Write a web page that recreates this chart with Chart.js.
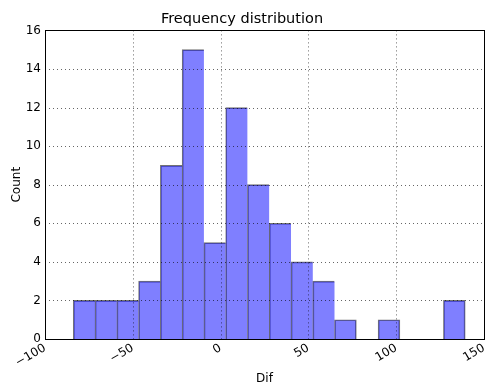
<!DOCTYPE html>
<html>
<head>
<meta charset="utf-8">
<script src="https://cdn.jsdelivr.net/npm/chart.js@4.4.1/dist/chart.umd.min.js"></script>
<style>
  html, body { margin: 0; padding: 0; background: #fff; }
  #wrap { width: 485px; height: 387px; }
</style>
</head>
<body>
<div id="wrap"><canvas id="histChart"></canvas></div>
<script>
// histogram bins (centres) and counts
var binCenters = [-77.7, -65.3, -52.9, -40.5, -28.1, -15.7, -3.3, 9.1, 21.5, 33.9,
                  46.3, 58.7, 71.1, 83.5, 95.9, 108.3, 120.7, 133.1];
var counts = [2, 2, 2, 3, 9, 15, 5, 12, 8, 6, 4, 3, 1, 0, 1, 0, 0, 2];
var xTicks = [-100, -50, 0, 50, 100, 150];
var yTicks = [0, 2, 4, 6, 8, 10, 12, 14, 16];

var FONT = "'DejaVu Sans', sans-serif";

// grid on top of the bars + full frame round the plot
var overlay = {
    id: 'overlay',
    afterDatasetsDraw: function(chart) {
        var ctx = chart.ctx, a = chart.chartArea;
        var xs = chart.scales.x, ys = chart.scales.y;
        ctx.save();
        ctx.strokeStyle = 'rgba(0,0,0,0.6)';
        ctx.lineWidth = 1;
        ctx.setLineDash([1, 3]);
        xTicks.forEach(function(v) {
            var px = Math.round(xs.getPixelForValue(v)) + 0.5;
            ctx.beginPath(); ctx.moveTo(px, a.top); ctx.lineTo(px, a.bottom); ctx.stroke();
        });
        yTicks.forEach(function(v) {
            var py = Math.round(ys.getPixelForValue(v)) + 0.5;
            ctx.beginPath(); ctx.moveTo(a.left, py); ctx.lineTo(a.right, py); ctx.stroke();
        });
        ctx.setLineDash([]);
        ctx.strokeStyle = '#000';
        ctx.strokeRect(Math.round(a.left) + 0.5, Math.round(a.top) + 0.5,
                       Math.round(a.right - a.left), Math.round(a.bottom - a.top));
        ctx.restore();
    }
};

// one shared edge between neighbouring bars, like matplotlib
function barBorder(c) {
    var i = c.dataIndex;
    var nextEmpty = i === counts.length - 1 || counts[i + 1] === 0;
    return { left: 1, top: 1, right: nextEmpty ? 1 : 0, bottom: 0 };
}

var ctx = document.getElementById('histChart').getContext('2d');
var histChart = new Chart(ctx, {
    type: 'bar',
    data: {
        datasets: [{
            data: binCenters.map(function(c, i) { return { x: c, y: counts[i] }; }),
            backgroundColor: 'rgba(0,0,255,0.5)',
            borderColor: 'rgba(0,0,0,0.55)',
            borderWidth: barBorder,
            borderSkipped: false,
            barPercentage: 1,
            categoryPercentage: 1
        }]
    },
    options: {
        responsive: true,
        maintainAspectRatio: false,
        animation: false,
        layout: { autoPadding: false, padding: { left: 0, right: 1, top: 0, bottom: 0 } },
        plugins: {
            legend: { display: false },
            tooltip: { enabled: false },
            title: {
                display: true,
                text: 'Frequency distribution',
                color: '#000',
                font: { family: FONT, size: 14.5, weight: 'normal' },
                padding: { top: 11, bottom: 2 }
            }
        },
        scales: {
            x: {
                type: 'linear',
                offset: false,
                min: -100,
                max: 150,
                afterBuildTicks: function(scale) {
                    scale.ticks = xTicks.map(function(v) { return { value: v }; });
                },
                afterFit: function(scale) {
                    scale.height = 48;
                    scale.paddingLeft = 0;
                    scale.paddingRight = 0;
                },
                grid: { display: false, drawTicks: false, offset: false },
                border: { display: false },
                ticks: {
                    minRotation: 30,
                    maxRotation: 30,
                    padding: 2,
                    color: '#000',
                    font: { family: FONT, size: 12 },
                    callback: function(v) { return String(v).replace('-', '\u2212'); }
                },
                title: {
                    display: true,
                    text: 'Dif',
                    color: '#000',
                    font: { family: FONT, size: 12 },
                    padding: { top: 0, bottom: 1 }
                }
            },
            y: {
                min: 0,
                max: 16,
                afterBuildTicks: function(scale) {
                    scale.ticks = yTicks.map(function(v) { return { value: v }; });
                },
                afterFit: function(scale) {
                    scale.width = 45;
                    scale.paddingTop = 0;
                    scale.paddingBottom = 0;
                },
                grid: { display: false, drawTicks: false },
                border: { display: false },
                ticks: {
                    padding: 4,
                    color: '#000',
                    font: { family: FONT, size: 12 }
                },
                title: {
                    display: true,
                    text: 'Count',
                    color: '#000',
                    font: { family: FONT, size: 12 },
                    padding: { top: 10, bottom: 0 }
                }
            }
        }
    },
    plugins: [overlay]
});
</script>
</body>
</html>
